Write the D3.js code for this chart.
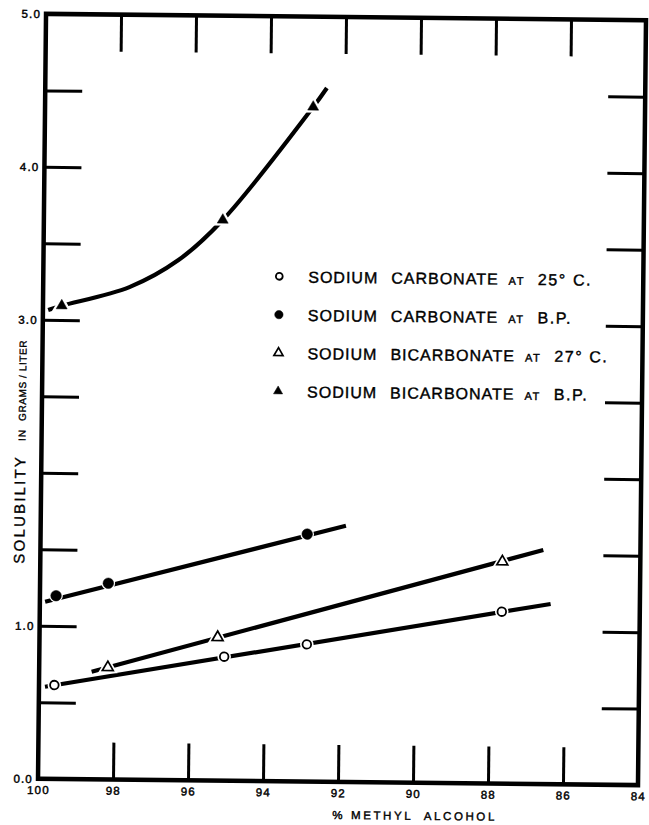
<!DOCTYPE html>
<html><head><meta charset="utf-8">
<script src="https://cdn.jsdelivr.net/npm/d3@7"></script>
<style>
html,body{margin:0;padding:0;background:#fff;}
svg{display:block;}
text{font-family:"Liberation Sans",Arial,sans-serif;fill:#000;}
</style></head><body>
<svg id="chart" width="649" height="825"></svg>
<script>
// ---------- data ----------
const xDomain = [100, 84];
const yDomain = [0, 5];
const xInnerTicks = [98, 96, 94, 92, 90, 88, 86];
const xTickLabels = [100, 98, 96, 94, 92, 90, 88, 86, 84];
const yInnerTicks = [0.5, 1, 1.5, 2, 2.5, 3, 3.5, 4, 4.5];
const yTickLabels = [0, 1, 3, 4, 5];

// Sodium carbonate at 25 C (open circles)
const carb25X = [99.59, 95.07, 92.87, 87.68];
const carb25Y = [0.614, 0.811, 0.897, 1.124];
const carb25FitX = [99.84, 86.38];
const carb25FitY = [0.602, 1.178];

// Sodium carbonate at B.P. (filled circles)
const carbBPX = [99.57, 98.18, 92.89];
const carbBPY = [1.198, 1.283, 1.618];
const carbBPFitX = [99.86, 91.86];
const carbBPFitY = [1.158, 1.675];

// Sodium bicarbonate at 27 C (open triangles)
const bicarb27X = [98.17, 95.25, 87.68];
const bicarb27Y = [0.733, 0.937, 1.451];
const bicarb27FitX = [98.6, 86.59];
const bicarb27FitY = [0.704, 1.530];

// Sodium bicarbonate at B.P. (filled triangles)
const bicarbBPX = [99.50, 95.23, 92.85];
const bicarbBPY = [3.094, 3.665, 4.41];
const bicarbBPCurveX = [99.86, 99.5, 97.7, 96.4, 95.23, 92.85, 92.49];
const bicarbBPCurveY = [3.065, 3.094, 3.22, 3.40, 3.665, 4.41, 4.535];

const legendSymbols = ["circle", "circle", "triangle", "triangle"];
const legendFilled = [false, true, false, true];
const legendWords = [
  ["SODIUM", "CARBONATE", "AT", "25° C."],
  ["SODIUM", "CARBONATE", "AT", "B.P."],
  ["SODIUM", "BICARBONATE", "AT", "27° C."],
  ["SODIUM", "BICARBONATE", "AT", "B.P."]
];
const xTitle = "% METHYL  ALCOHOL";
const yTitleParts = ["SOLUBILITY", "IN", "GRAMS / LITER"];

// ---------- layout ----------
const L = 42, R = 642, T = 17, B = 782;
const svg = d3.select("#chart");
const g = svg.append("g").attr("transform", "rotate(0.6,342,400)");

const x = d3.scaleLinear().domain(xDomain).range([L, R]);
const y = d3.scaleLinear().domain(yDomain).range([B, T]);

function styleTicks(sel) {
  sel.select(".domain").remove();
  sel.selectAll(".tick line").attr("stroke", "#000").attr("stroke-width", 3);
}
const tickLen = 37;
g.append("g").attr("transform", `translate(${L},0)`)
  .call(d3.axisLeft(y).tickValues(yInnerTicks).tickSize(-tickLen).tickFormat(""))
  .call(styleTicks);
g.append("g").attr("transform", `translate(${R},0)`)
  .call(d3.axisRight(y).tickValues(yInnerTicks).tickSize(-tickLen).tickFormat(""))
  .call(styleTicks);
g.append("g").attr("transform", `translate(0,${T})`)
  .call(d3.axisTop(x).tickValues(xInnerTicks).tickSize(-tickLen).tickFormat(""))
  .call(styleTicks);
g.append("g").attr("transform", `translate(0,${B})`)
  .call(d3.axisBottom(x).tickValues(xInnerTicks).tickSize(-tickLen).tickFormat(""))
  .call(styleTicks);

// frame
g.append("rect").attr("x", L).attr("y", T).attr("width", R - L).attr("height", B - T)
  .attr("fill", "none").attr("stroke", "#000").attr("stroke-width", 4.5);

// tick labels
function styleLabels(sel) {
  sel.select(".domain").remove();
  sel.selectAll(".tick line").remove();
  sel.selectAll(".tick text")
    .attr("font-family", '"Liberation Sans",Arial,sans-serif')
    .attr("font-size", 11.5).attr("letter-spacing", 1.2)
    .attr("fill", "#000").attr("stroke", "#000").attr("stroke-width", 0.45);
}
g.append("g").attr("transform", `translate(${L - 3},0)`)
  .call(d3.axisLeft(y).tickValues(yTickLabels).tickSize(0).tickPadding(2).tickFormat(d3.format(".1f")))
  .call(styleLabels);
g.append("g").attr("transform", `translate(0,${B})`)
  .call(d3.axisBottom(x).tickValues(xTickLabels).tickSize(0).tickPadding(7).tickFormat(d3.format("d")))
  .call(styleLabels);

// axis titles
g.append("text").attr("x", 419).attr("y", 819).attr("text-anchor", "middle")
  .attr("font-size", 11.5).attr("letter-spacing", 2.6)
  .attr("stroke", "#000").attr("stroke-width", 0.4)
  .style("white-space", "pre").text(xTitle);

const yt = g.append("text").attr("transform", "translate(26,567) rotate(-90)")
  .attr("stroke", "#000").attr("stroke-width", 0.35);
yt.append("tspan").attr("font-size", 15).attr("letter-spacing", 2.2).text(yTitleParts[0]);
yt.append("tspan").attr("dx", 14).attr("font-size", 10).attr("letter-spacing", 1).text(yTitleParts[1]);
yt.append("tspan").attr("dx", 8).attr("font-size", 10).attr("letter-spacing", 0.6)
  .style("white-space", "pre").text(yTitleParts[2]);

// ---------- series ----------
const line = d3.line().x(d => x(d[0])).y(d => y(d[1]));
function fitLine(xs, ys) {
  g.append("path").datum(xs.map((v, i) => [v, ys[i]]))
    .attr("d", line).attr("fill", "none").attr("stroke", "#000").attr("stroke-width", 4.2);
}
fitLine(carb25FitX, carb25FitY);
fitLine(carbBPFitX, carbBPFitY);
fitLine(bicarb27FitX, bicarb27FitY);
g.append("path").datum(bicarbBPCurveX.map((v, i) => [v, bicarbBPCurveY[i]]))
  .attr("d", line.curve(d3.curveCatmullRom.alpha(0.5)))
  .attr("fill", "none").attr("stroke", "#000").attr("stroke-width", 4.2);

function drawMarkers(parent, pts, kind, filled, scale, halo) {
  const triSize = (scale ? 52 : 36);
  const circR = filled ? (scale ? 5.3 : 4.2) : (scale ? 4.3 : 3.4);
  pts.forEach(p => {
    const gg = parent.append("g").attr("transform", `translate(${p[0]},${p[1]})`);
    if (kind === "circle") {
      if (halo) gg.append("circle").attr("r", circR).attr("fill", "#fff").attr("stroke", "#fff").attr("stroke-width", halo);
      gg.append("circle").attr("r", circR)
        .attr("fill", filled ? "#000" : "#fff").attr("stroke", "#000").attr("stroke-width", filled ? 0.5 : 1.8);
    } else {
      const sym = d3.symbol().type(d3.symbolTriangle).size(triSize)();
      if (halo) gg.append("path").attr("d", sym).attr("fill", "#fff").attr("stroke", "#fff").attr("stroke-width", halo);
      gg.append("path").attr("d", sym)
        .attr("fill", filled ? "#000" : "#fff").attr("stroke", "#000").attr("stroke-width", filled ? 0.5 : 1.7)
        .attr("stroke-linejoin", "miter");
    }
  });
}
const toPts = (xs, ys) => xs.map((v, i) => [x(v), y(ys[i])]);
drawMarkers(g, toPts(carb25X, carb25Y), "circle", false, true, 5);
drawMarkers(g, toPts(carbBPX, carbBPY), "circle", true, true, 3);
drawMarkers(g, toPts(bicarb27X, bicarb27Y), "triangle", false, true, 5);
drawMarkers(g, toPts(bicarbBPX, bicarbBPY), "triangle", true, true, 5);

// ---------- legend ----------
const lg = g.append("g");
legendWords.forEach((words, i) => {
  const base = 283 + i * 38.3;
  drawMarkers(lg, [[278, base - 6]], legendSymbols[i], legendFilled[i], false, 0);
  let cx = 307;
  words.forEach((w, j) => {
    const small = (w === "AT");
    if (j === 1) cx = 390;
    const t = lg.append("text").attr("x", cx).attr("y", base)
      .attr("font-size", small ? 11 : 16)
      .attr("letter-spacing", small ? 1.5 : (j === 3 ? 1.6 : 1))
      .attr("stroke", "#000").attr("stroke-width", 0.4)
      .style("white-space", "pre").text(w);
    const wlen = t.node().getComputedTextLength();
    cx = cx + wlen + (small ? 13 : 10);
  });
});
</script>
</body></html>
